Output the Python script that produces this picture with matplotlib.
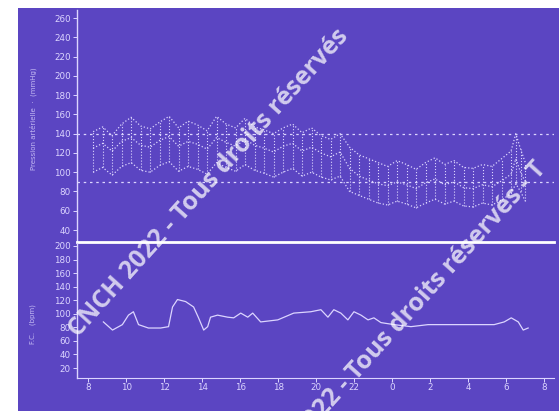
"""Ambulatory blood pressure / heart rate monitor printout (24 h)."""
import matplotlib
matplotlib.use("Agg")
import matplotlib.pyplot as plt

BG = "#5b45c2"
FG = "#dcd5ff"

# blood pressure measurements (hours since midnight of day 1)
bp_hours = [8.25, 8.75, 9.25, 9.75, 10.25, 10.75, 11.25, 11.75, 12.25, 12.75,
            13.25, 13.75, 14.25, 14.75, 15.25, 15.75, 16.25, 16.75, 17.25, 17.75,
            18.25, 18.75, 19.25, 19.75, 20.25, 20.75, 21.25, 21.75, 22.25, 22.75,
            23.25, 23.75, 24.25, 24.75, 25.25, 25.75, 26.25, 26.75, 27.25, 27.75,
            28.25, 28.75, 29.25, 29.75, 30.25, 30.5, 30.75, 31.0]
systolic = [142, 147, 138, 150, 157, 148, 145, 152, 158, 146,
            153, 149, 143, 158, 150, 146, 156, 147, 144, 140,
            146, 150, 141, 146, 138, 134, 140, 126, 118, 114,
            110, 106, 112, 108, 103, 110, 115, 108, 112, 105,
            104, 108, 106, 114, 122, 140, 124, 110]
mean_bp = [125, 130, 122, 132, 136, 128, 126, 133, 137, 127,
           132, 129, 124, 136, 131, 127, 134, 128, 125, 121,
           127, 130, 122, 126, 120, 116, 121, 104, 96, 92,
           88, 86, 90, 87, 83, 89, 93, 87, 90, 84,
           83, 87, 85, 91, 98, 114, 100, 90]
diastolic = [100, 105, 97, 106, 110, 102, 100, 107, 111, 101,
             106, 103, 98, 110, 105, 101, 108, 102, 99, 95,
             100, 104, 96, 100, 95, 92, 96, 80, 76, 72,
             68, 66, 70, 67, 63, 68, 72, 67, 70, 65,
             64, 68, 66, 71, 78, 88, 80, 70]

# heart rate trace
hr_hours = [8.79, 9.27, 9.79, 10.11, 10.37, 10.64, 11.16, 11.80, 12.22, 12.43,
            12.69, 13.12, 13.54, 13.80, 14.07, 14.28, 14.43, 14.80, 15.33, 15.65,
            16.02, 16.39, 16.65, 17.07, 17.97, 18.81, 19.71, 20.24, 20.61, 20.92,
            21.29, 21.66, 21.98, 22.35, 22.72, 23.03, 23.40, 24.09, 24.98, 25.88,
            27.62, 29.36, 29.89, 30.26, 30.63, 30.89, 31.15]
heart_rate = [88, 76, 84, 98, 103, 84, 79, 79, 81, 110,
              121, 118, 110, 94, 76, 81, 95, 98, 95, 94,
              101, 95, 101, 88, 91, 101, 103, 106, 95, 106,
              101, 91, 103, 98, 91, 94, 87, 84, 81, 84,
              84, 84, 88, 94, 88, 76, 79]

x_ticks = [8, 10, 12, 14, 16, 18, 20, 22, 24, 26, 28, 30, 32]
x_labels = ["8", "10", "12", "14", "16", "18", "20", "22", "0", "2", "4", "6", "8"]
bp_ticks = [260, 240, 220, 200, 180, 160, 140, 120, 100, 80, 60, 40]
hr_ticks = [200, 180, 160, 140, 120, 100, 80, 60, 40, 20]

fig = plt.figure(figsize=(5.59, 4.11), dpi=100)
fig.patch.set_facecolor("white")

# purple screen behind everything
bg = fig.add_axes([18 / 559, 0, 1 - 18 / 559, 403 / 411], zorder=-5)
bg.set_facecolor(BG)
bg.set_xticks([])
bg.set_yticks([])
for s in bg.spines.values():
    s.set_visible(False)

ax1 = fig.add_axes([0.1377, 0.411, 0.853, 0.5645])
ax2 = fig.add_axes([0.1377, 0.0803, 0.853, 0.3285])

for ax in (ax1, ax2):
    ax.set_facecolor("none")
    ax.set_xlim(7.4, 32.5)
    for side in ("top", "right"):
        ax.spines[side].set_visible(False)
    ax.spines["left"].set_color(FG)
    ax.spines["left"].set_linewidth(1.0)
    ax.tick_params(colors=FG, labelsize=6.3, length=3, width=0.7, pad=1.5)

# upper panel: blood pressure
ax1.set_ylim(27.5, 268.3)
ax1.set_yticks(bp_ticks)
ax1.set_xticks([])
ax1.spines["bottom"].set_color("white")
ax1.spines["bottom"].set_linewidth(2)
for ref in (140, 90):
    ax1.axhline(ref, color=FG, lw=0.9, dashes=(2, 3))
ax1.vlines(bp_hours, diastolic, systolic, colors=FG, linestyles=":", lw=0.8)
for series in (systolic, mean_bp, diastolic):
    ax1.plot(bp_hours, series, color=FG, lw=0.9, ls=":")
ax1.text(-0.092, 0.53, "Pression artérielle  ·  (mmHg)", transform=ax1.transAxes,
         rotation=90, color=FG, fontsize=5, ha="center", va="center", alpha=0.8)

# lower panel: heart rate
ax2.set_ylim(5.3, 204.4)
ax2.set_yticks(hr_ticks)
ax2.set_xticks(x_ticks)
ax2.set_xticklabels(x_labels)
ax2.tick_params(axis="x", pad=0.5)
ax2.spines["bottom"].set_color(FG)
ax2.plot(hr_hours, heart_rate, color=FG, lw=0.9)
ax2.text(-0.092, 0.4, "F.C.   (bpm)", transform=ax2.transAxes,
         rotation=90, color=FG, fontsize=5, ha="center", va="center", alpha=0.8)

# watermark
wm = "CNCH 2022 - Tous droits réservés"
fig.text(78 / 559, 1 - 338 / 411, wm, rotation=48, rotation_mode="anchor",
         color="white", alpha=0.72, fontsize=18, fontweight="bold",
         ha="left", va="baseline", family="Open Sans")
fig.text(252 / 559, 1 - 497 / 411, wm + " - T", rotation=48, rotation_mode="anchor",
         color="white", alpha=0.72, fontsize=18, fontweight="bold",
         ha="left", va="baseline", family="Open Sans")

fig.savefig("out.png", dpi=100, facecolor=fig.get_facecolor())
